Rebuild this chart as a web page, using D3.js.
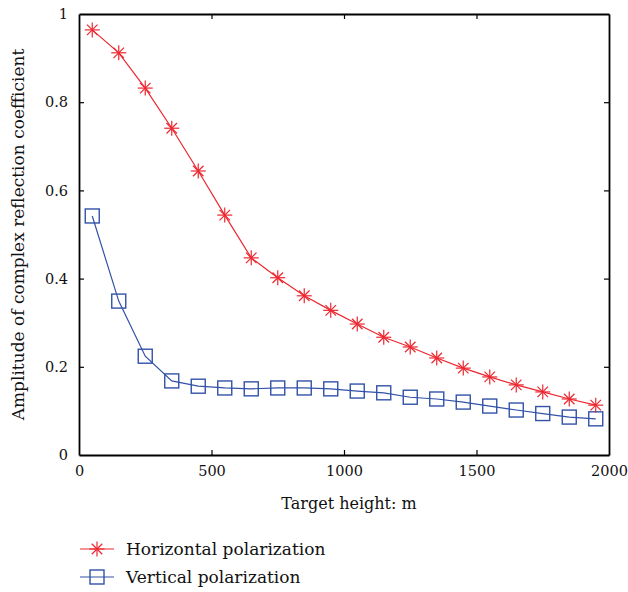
<!DOCTYPE html>
<html>
<head>
<meta charset="utf-8">
<script src="https://cdn.jsdelivr.net/npm/d3@7"></script>
<style>
  body { margin: 0; background: #fff; }
</style>
</head>
<body>
<div id="chart"></div>
<script>
const heights = [50, 150, 250, 350, 450, 550, 650, 750, 850, 950,
                 1050, 1150, 1250, 1350, 1450, 1550, 1650, 1750, 1850, 1950];
const horizontal = [0.964, 0.912, 0.832, 0.741, 0.644, 0.544, 0.447, 0.402, 0.361, 0.328,
                    0.297, 0.267, 0.245, 0.220, 0.197, 0.177, 0.159, 0.143, 0.127, 0.113];
const vertical = [0.542, 0.349, 0.224, 0.168, 0.156, 0.152, 0.150, 0.152, 0.152, 0.150,
                  0.145, 0.141, 0.131, 0.127, 0.120, 0.111, 0.102, 0.094, 0.086, 0.082];
const xTicks = [0, 500, 1000, 1500, 2000];
const yTicks = [0, 0.2, 0.4, 0.6, 0.8, 1];
const seriesNames = ['Horizontal polarization', 'Vertical polarization'];

const width = 628, height = 592;
const margin = {left: 79, right: 19, top: 14, bottom: 137};
const red = '#ec2730', blue = '#3252a8';
const serif = '"DejaVu Serif", serif';

const svg = d3.select('#chart').append('svg')
    .attr('width', width)
    .attr('height', height)
    .style('font-family', serif);

const x = d3.scaleLinear().domain([0, 2000]).range([margin.left, width - margin.right]);
const y = d3.scaleLinear().domain([0, 1]).range([height - margin.bottom, margin.top]);

// box with inward ticks on all four sides
const tickLen = 5;
const axB = svg.append('g').attr('transform', `translate(0,${y(0)})`)
    .call(d3.axisBottom(x).tickValues(xTicks).tickSizeInner(-tickLen).tickSizeOuter(0)
        .tickPadding(11).tickFormat(d3.format('d')));
const axT = svg.append('g').attr('transform', `translate(0,${y(1)})`)
    .call(d3.axisTop(x).tickValues(xTicks).tickSizeInner(-tickLen).tickSizeOuter(0).tickFormat(''));
const axL = svg.append('g').attr('transform', `translate(${x(0)},0)`)
    .call(d3.axisLeft(y).tickValues(yTicks).tickSizeInner(-tickLen).tickSizeOuter(0)
        .tickPadding(11).tickFormat(d => String(d)));
const axR = svg.append('g').attr('transform', `translate(${x(2000)},0)`)
    .call(d3.axisRight(y).tickValues(yTicks).tickSizeInner(-tickLen).tickSizeOuter(0).tickFormat(''));

[axB, axT, axL, axR].forEach(a => {
    a.attr('font-family', null).attr('font-size', 14.5);
    a.select('.domain').attr('stroke', '#000').attr('stroke-width', 1.8);
    a.selectAll('.tick line').attr('stroke', '#000').attr('stroke-width', 1.2);
    a.selectAll('.tick text').attr('fill', '#111').style('font-family', serif);
});
// no ticks at the corners
[axB, axT].forEach(a => a.selectAll('.tick line').filter(d => d === 0 || d === 2000).remove());
[axL, axR].forEach(a => a.selectAll('.tick line').filter(d => d === 0 || d === 1).remove());

// axis titles
svg.append('text')
    .attr('x', 349).attr('y', 509)
    .attr('text-anchor', 'middle')
    .attr('font-size', 16).attr('fill', '#111')
    .style('font-family', serif)
    .text('Target height: m');

svg.append('text')
    .attr('transform', `translate(24,${(y(0) + y(1)) / 2}) rotate(-90)`)
    .attr('text-anchor', 'middle')
    .attr('font-size', 17).attr('fill', '#111')
    .style('font-family', serif)
    .text('Amplitude of complex reflection coefficient');

const line = d3.line().x(d => x(d[0])).y(d => y(d[1]));

function star(g, cx, cy, r, color) {
    const s = g.append('g').attr('transform', `translate(${cx},${cy})`)
        .attr('stroke', color).attr('stroke-width', 1.2);
    const d = r * 0.7;
    s.append('line').attr('x1', -r).attr('x2', r).attr('y1', 0).attr('y2', 0);
    s.append('line').attr('x1', 0).attr('x2', 0).attr('y1', -r).attr('y2', r);
    s.append('line').attr('x1', -d).attr('x2', d).attr('y1', -d).attr('y2', d);
    s.append('line').attr('x1', -d).attr('x2', d).attr('y1', d).attr('y2', -d);
}
function square(g, cx, cy, h, color) {
    g.append('rect').attr('x', cx - h).attr('y', cy - h)
        .attr('width', 2 * h).attr('height', 2 * h)
        .attr('fill', 'none').attr('stroke', color).attr('stroke-width', 1.4);
}

const hData = heights.map((h, i) => [h, horizontal[i]]);
const vData = heights.map((h, i) => [h, vertical[i]]);

svg.append('path').datum(vData).attr('d', line)
    .attr('fill', 'none').attr('stroke', blue).attr('stroke-width', 1.2);
const vm = svg.append('g');
vData.forEach(d => square(vm, x(d[0]), y(d[1]), 7, blue));

svg.append('path').datum(hData).attr('d', line)
    .attr('fill', 'none').attr('stroke', red).attr('stroke-width', 1.2);
const hm = svg.append('g');
hData.forEach(d => star(hm, x(d[0]), y(d[1]), 7.5, red));

// legend
const legend = svg.append('g');
const legY = [549, 577];
const colors = [red, blue];
seriesNames.forEach((name, i) => {
    legend.append('line').attr('x1', 80).attr('x2', 114)
        .attr('y1', legY[i]).attr('y2', legY[i])
        .attr('stroke', colors[i]).attr('stroke-width', 1.2);
    if (i === 0) star(legend, 97, legY[i], 7.5, red);
    else square(legend, 97, legY[i], 7, blue);
    legend.append('text').attr('x', 126).attr('y', legY[i] + 6)
        .attr('font-size', 17).attr('fill', '#111')
        .style('font-family', serif).text(name);
});
</script>
</body>
</html>
